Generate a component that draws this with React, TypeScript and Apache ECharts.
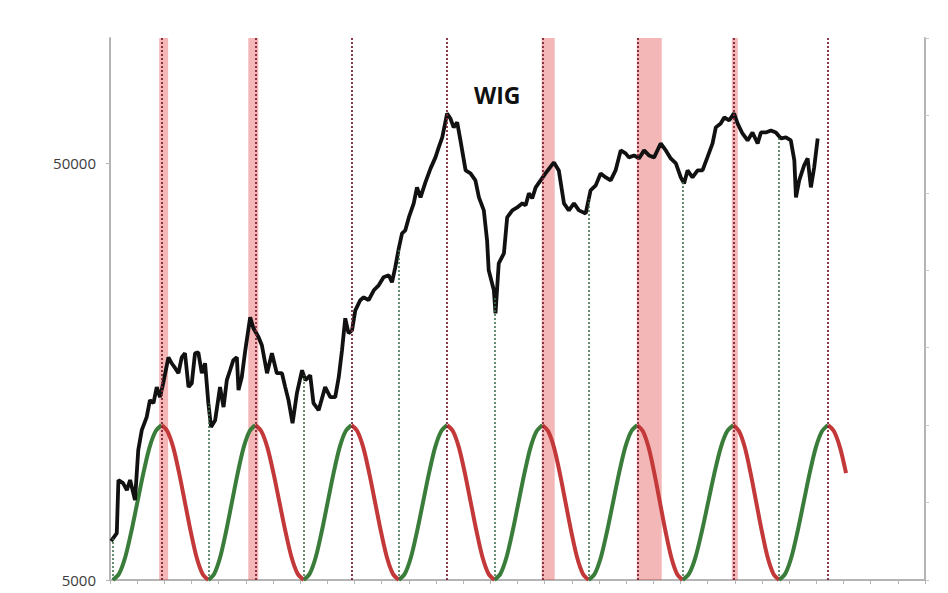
import React, { useEffect, useRef } from 'react';
import * as echarts from 'echarts';

// WIG index (weekly-ish samples)
const wigYears = [
  1995.04, 1995.25, 1995.31, 1995.48, 1995.62, 1995.74, 1995.92, 1996.04, 1996.17, 1996.35,
  1996.47, 1996.60, 1996.72, 1996.84, 1996.96, 1997.15, 1997.27, 1997.40, 1997.52, 1997.64,
  1997.76, 1997.89, 1998.01, 1998.13, 1998.25, 1998.38, 1998.50, 1998.62, 1998.72, 1998.87,
  1999.05, 1999.18, 1999.30, 1999.42, 1999.54, 1999.67, 1999.73, 1999.85, 1999.98, 2000.16,
  2000.28, 2000.47, 2000.59, 2000.78, 2000.96, 2001.14, 2001.33, 2001.45, 2001.57, 2001.72,
  2001.88, 2002.07, 2002.19, 2002.37, 2002.49, 2002.68, 2002.92, 2003.11, 2003.29, 2003.42,
  2003.54, 2003.66, 2003.78, 2003.91, 2004.03, 2004.21, 2004.34, 2004.52, 2004.71, 2004.89,
  2005.07, 2005.26, 2005.38, 2005.50, 2005.63, 2005.75, 2005.87, 2006.00, 2006.18, 2006.30,
  2006.43, 2006.61, 2006.80, 2006.98, 2007.10, 2007.23, 2007.41, 2007.53, 2007.65, 2007.78,
  2007.90, 2008.09, 2008.27, 2008.45, 2008.58, 2008.76, 2008.88, 2008.94, 2009.13, 2009.19,
  2009.31, 2009.50, 2009.62, 2009.81, 2009.99, 2010.18, 2010.30, 2010.42, 2010.54, 2010.67,
  2010.85, 2011.03, 2011.34, 2011.52, 2011.71, 2011.89, 2012.08, 2012.26, 2012.51, 2012.69,
  2012.88, 2013.06, 2013.25, 2013.43, 2013.61, 2013.80, 2013.98, 2014.10, 2014.29, 2014.47,
  2014.66, 2014.84, 2015.03, 2015.27, 2015.46, 2015.64, 2015.83, 2016.01, 2016.13, 2016.26,
  2016.44, 2016.63, 2016.81, 2016.99, 2017.18, 2017.30, 2017.48, 2017.61, 2017.79, 2017.97,
  2018.10, 2018.28, 2018.47, 2018.65, 2018.84, 2018.96, 2019.14, 2019.33, 2019.51, 2019.70,
  2019.88, 2020.06, 2020.19, 2020.25, 2020.37, 2020.55, 2020.68, 2020.80, 2020.92, 2021.05,
];
const wigValues = [
  6200, 6480, 8690, 8540, 8220, 8690, 7780, 10250, 11450, 12300,
  13510, 13290, 14520, 13740, 14840, 17120, 16570, 16120, 15680, 17120,
  17510, 14520, 14840, 17510, 17610, 15680, 16570, 13290, 11640, 12090,
  14520, 13000, 15090, 15940, 16850, 17120, 14280, 15340, 17800, 21360,
  20110, 19130, 18300, 15680, 17510, 15680, 15680, 14520, 13510, 11890,
  14040, 15940, 15090, 15500, 13290, 12780, 14520, 13740, 13740, 15340,
  17800, 21240, 19560, 19880, 22200, 23470, 23860, 23470, 24800, 25490,
  26640, 26940, 25920, 28150, 31270, 33970, 34540, 37100, 40100, 43790,
  41430, 45020, 48640, 51690, 54610, 57720, 65900, 64110, 61010, 62720,
  56770, 48100, 47310, 45510, 41430, 38570, 32680, 27690, 24800, 21840,
  28790, 30420, 37100, 38570, 39210, 40100, 39650, 42380, 41230, 43790,
  45510, 47310, 50280, 48100, 40100, 38570, 40100, 38570, 37930, 43090,
  44290, 47310, 46280, 45510, 48100, 53730, 52840, 51690, 52260, 51400,
  53730, 52260, 51690, 55830, 53730, 51400, 50000, 46280, 44770, 48100,
  46280, 48100, 48100, 51690, 55830, 61010, 62370, 64470, 63400, 65900,
  62370, 59000, 56770, 59330, 55830, 59330, 59330, 60000, 59330, 57400,
  57720, 56770, 50830, 41430, 45510, 49450, 51400, 43790, 48900, 57400,
];

// Cycle turning points (years)
const cyclePeaks = [1996.9, 2000.35, 2003.89, 2007.41, 2010.92, 2014.41, 2017.95, 2021.43];
const cycleTroughs = [1995.11, 1998.62, 2002.13, 2005.63, 2009.15, 2012.62, 2016.08, 2019.63];
const nextTroughEstimate = 2023.2;
const lastLegVisibleSteps = 3;
// shape of a rising half-cycle (right-axis units), sampled at eighths
const cycleShape = [0, 0.08, 0.29, 0.62, 1, 1.38, 1.71, 1.92, 2];

// shaded periods
const bandStarts = [1996.81, 2000.09, 2010.89, 2014.39, 2017.89];
const bandEnds = [1997.14, 2000.46, 2011.37, 2015.31, 2018.11];

const leftTickLabels = ['5000', '50000'];
const Y_BASE = 5000;
const Y_TOP = 100000;
const X_MIN = 1995;
const X_MAX = 2025;

const ly = (v: number) => Math.log10(v / Y_BASE);

function wigAt(x: number): number {
  for (let i = 0; i < wigYears.length - 1; i++) {
    if (x >= wigYears[i] && x <= wigYears[i + 1]) {
      const f = (x - wigYears[i]) / (wigYears[i + 1] - wigYears[i]);
      return ly(wigValues[i]) * (1 - f) + ly(wigValues[i + 1]) * f;
    }
  }
  return x < wigYears[0] ? ly(wigValues[0]) : ly(wigValues[wigValues.length - 1]);
}

export default function App() {
  const ref = useRef<HTMLDivElement>(null);
  useEffect(() => {
    document.body.style.margin = '0';
    const chart = echarts.init(ref.current!, null, { renderer: 'svg' });
    const n = cycleShape.length - 1;
    const green = '#3a7d3a';
    const red = '#c3393a';

    const cycleSeries: any[] = [];
    cycleTroughs.forEach((t, i) => {
      const p = cyclePeaks[i];
      cycleSeries.push({
        type: 'line',
        yAxisIndex: 1,
        data: cycleShape.map((v, k) => [t + ((p - t) * k) / n, v]),
        smooth: 0.3,
        symbol: 'none',
        silent: true,
        lineStyle: { color: green, width: 4 },
        z: 2,
      });
    });
    cyclePeaks.forEach((p, i) => {
      const last = i === cyclePeaks.length - 1;
      const t = last ? nextTroughEstimate : cycleTroughs[i + 1];
      const shape = cycleShape.slice().reverse();
      const steps = last ? lastLegVisibleSteps : n;
      const pts = shape.slice(0, steps + 1).map((v, k) => [p + ((t - p) * k) / n, v]);
      cycleSeries.push({
        type: 'line',
        yAxisIndex: 1,
        data: pts,
        smooth: 0.3,
        symbol: 'none',
        silent: true,
        lineStyle: { color: red, width: 4 },
        z: 2,
      });
    });

    const option: any = {
      animation: false,
      backgroundColor: '#ffffff',
      title: {
        text: 'WIG',
        left: 474,
        top: 83,
        padding: 0,
        textStyle: { fontSize: 23, fontWeight: 'bold', color: '#111', fontFamily: 'Open Sans' },
      },
      grid: { left: 110, right: 23, top: 38, bottom: 13, containLabel: false },
      xAxis: {
        type: 'value',
        min: X_MIN,
        max: X_MAX,
        interval: 1,
        axisLine: { show: true, lineStyle: { color: '#b4b4b4', width: 2 } },
        axisTick: { show: true, length: 4, lineStyle: { color: '#b4b4b4' } },
        axisLabel: { show: false },
        splitLine: { show: false },
      },
      yAxis: [
        {
          type: 'value',
          position: 'left',
          min: 0,
          max: ly(Y_TOP),
          interval: 1,
          axisLine: { show: true, lineStyle: { color: '#b4b4b4', width: 2 } },
          axisTick: { show: true, length: 4, lineStyle: { color: '#b4b4b4' }, customValues: [0, 1] },
          axisLabel: {
            customValues: [0, 1],
            margin: 14,
            color: '#3c3c3c',
            fontSize: 15,
            fontFamily: 'Open Sans',
            formatter: (v: number) => {
              const r = Math.round(v);
              return Math.abs(v - r) < 1e-6 && leftTickLabels[r] ? leftTickLabels[r] : '';
            },
          },
          splitLine: { show: false },
        },
        {
          type: 'value',
          position: 'right',
          min: 0,
          max: 7,
          interval: 1,
          axisLine: { show: true, lineStyle: { color: '#b4b4b4', width: 2 } },
          axisTick: { show: true, length: 4, lineStyle: { color: '#c8c8c8' } },
          axisLabel: { show: false },
          splitLine: { show: false },
        },
      ],
      series: [
        ...cycleSeries,
        {
          name: 'WIG',
          type: 'line',
          yAxisIndex: 0,
          data: wigYears.map((x, i) => [x, ly(wigValues[i])]),
          symbol: 'none',
          silent: true,
          lineStyle: { color: '#111111', width: 3.8 },
          z: 3,
          markLine: {
            silent: true,
            symbol: 'none',
            label: { show: false },
            lineStyle: { color: '#3f7049', type: [2, 2], width: 1.6 },
            data: cycleTroughs.map((t) => [{ coord: [t, 0] }, { coord: [t, wigAt(t)] }]),
          },
        },
        {
          name: 'overlay',
          type: 'line',
          yAxisIndex: 0,
          data: [],
          silent: true,
          z: 5,
          markArea: {
            silent: true,
            itemStyle: { color: 'rgba(228, 84, 84, 0.42)' },
            data: bandStarts.map((s, i) => [{ xAxis: s }, { xAxis: bandEnds[i] }]),
          },
          markLine: {
            silent: true,
            symbol: 'none',
            label: { show: false },
            lineStyle: { color: '#7e2436', type: [2, 2], width: 1.8 },
            data: cyclePeaks.map((p) => ({ xAxis: p })),
          },
        },
      ],
    };
    chart.setOption(option);
    return () => chart.dispose();
  }, []);
  return <div ref={ref} style={{ width: 948, height: 593, background: '#fff' }} />;
}
